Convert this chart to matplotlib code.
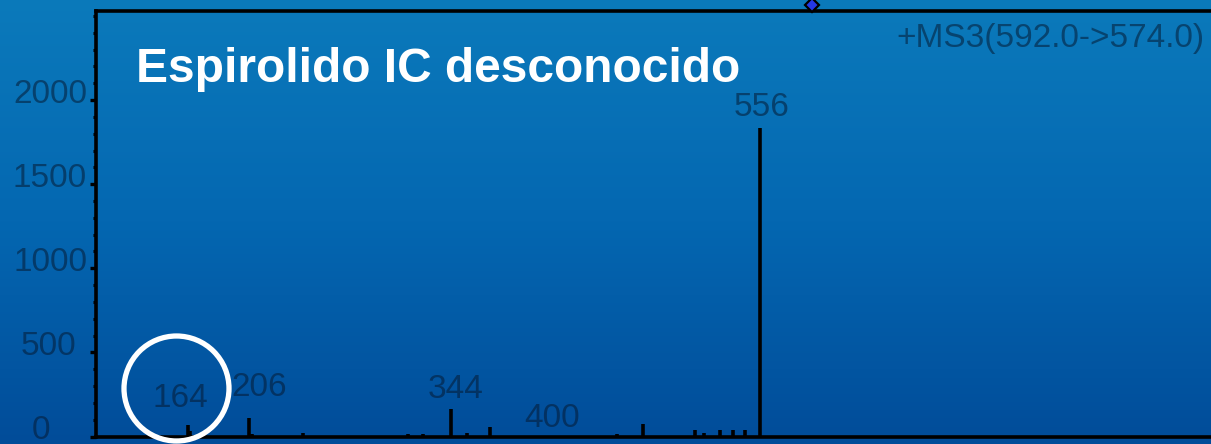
import numpy as np
import matplotlib
matplotlib.use("Agg")
import matplotlib.pyplot as plt
from matplotlib.colors import LinearSegmentedColormap

plt.rcParams['font.family'] = ['Liberation Sans', 'DejaVu Sans']

# MS3 spectrum: m/z and intensity of each peak
mz = [164, 165.5, 206, 208, 243, 315, 325, 344, 355, 371, 400,
      458, 476, 511.5, 518, 528.5, 537.5, 546, 556]
intensity = [71, 32, 110, 14, 18, 16, 16, 161, 18, 54, 4,
             15, 77, 36, 20, 36, 36, 36, 1833]

# labelled peaks
label_mz = [164, 206, 344, 400, 556]
label_dx = [-8, 9.5, 5, 19.5, 1.5]      # pixel offsets of the label text
label_dy = [17.5, 22.5, 11.5, 8.5, 12.5]

precursor_mz = 592
yticks = [0, 500, 1000, 1500, 2000]
ytick_dx = [-55, -48, -46, -46, -46]    # tick label centres, pixels from the spine
title = "Espirolido IC desconocido"
scan = "+MS3(592.0->574.0)"

W, H = 1211, 444
fig = plt.figure(figsize=(W / 100, H / 100), dpi=100)

# blue gradient background
bg = fig.add_axes([0, 0, 1, 1], zorder=0)
grad = LinearSegmentedColormap.from_list("bg", ["#0b7abb", "#0467b1", "#014c99"])
bg.imshow(np.linspace(0, 1, 256).reshape(-1, 1), cmap=grad, aspect="auto",
          extent=[0, 1, 0, 1], origin="upper")
bg.set_axis_off()

left, bottom, top = 96, 436.5, 11
xmin, xmax = 101, 900
px_per_mz = 1.459
ax = fig.add_axes([left / W, (H - bottom) / H,
                   (xmax - xmin) * px_per_mz / W, (bottom - top) / H], zorder=1)
ax.patch.set_alpha(0)
ax.set_xlim(xmin, xmax)
ax.set_ylim(0, 2530)

ax.vlines(mz, 0, intensity, color="black", lw=2.6)

for side in ["left", "top", "bottom"]:
    ax.spines[side].set_linewidth(2.6)
ax.spines["right"].set_visible(False)
ax.set_xticks([])
ax.set_yticks(yticks)
ax.set_yticks(np.arange(0, 2501, 100), minor=True)
ax.tick_params(axis="y", which="major", direction="out", length=4, width=2.4, labelleft=False)
ax.tick_params(axis="y", which="minor", direction="out", length=2.5, width=2.2)

label_color = (0.02, 0.1, 0.2, 0.55)
for v, dx in zip(yticks, ytick_dx):
    ax.annotate(str(v), xy=(0, v), xycoords=("axes fraction", "data"),
                xytext=(dx, -2.5), textcoords="offset pixels",
                ha="center", va="baseline", fontsize=24, color=label_color,
                annotation_clip=False)

peak_height = dict(zip(mz, intensity))
for m, dx, dy in zip(label_mz, label_dx, label_dy):
    ax.annotate(str(m), xy=(m, peak_height[m]), xytext=(dx, dy),
                textcoords="offset pixels", ha="center", va="baseline",
                fontsize=24, color=label_color)

# precursor marker above the frame
ax.plot([precursor_mz], [2530 * 1.015], marker="D", ms=7, mfc="#2438e6",
        mec="black", mew=1.6, clip_on=False, zorder=5)

# highlight ring around the 164 fragment
ax.plot([155.8], [288], marker="o", ms=75.6, mfc="none", mec="white",
        mew=3.8, clip_on=False, zorder=6)

fig.text(136 / W, 1 - 82 / H, title, color="white", fontsize=34.5,
         fontweight="bold", ha="left", va="baseline", zorder=3)
fig.text(1205 / W, 1 - 47 / H, scan, color=label_color, fontsize=24,
         ha="right", va="baseline", zorder=3)

fig.savefig("out.png", dpi=100)
